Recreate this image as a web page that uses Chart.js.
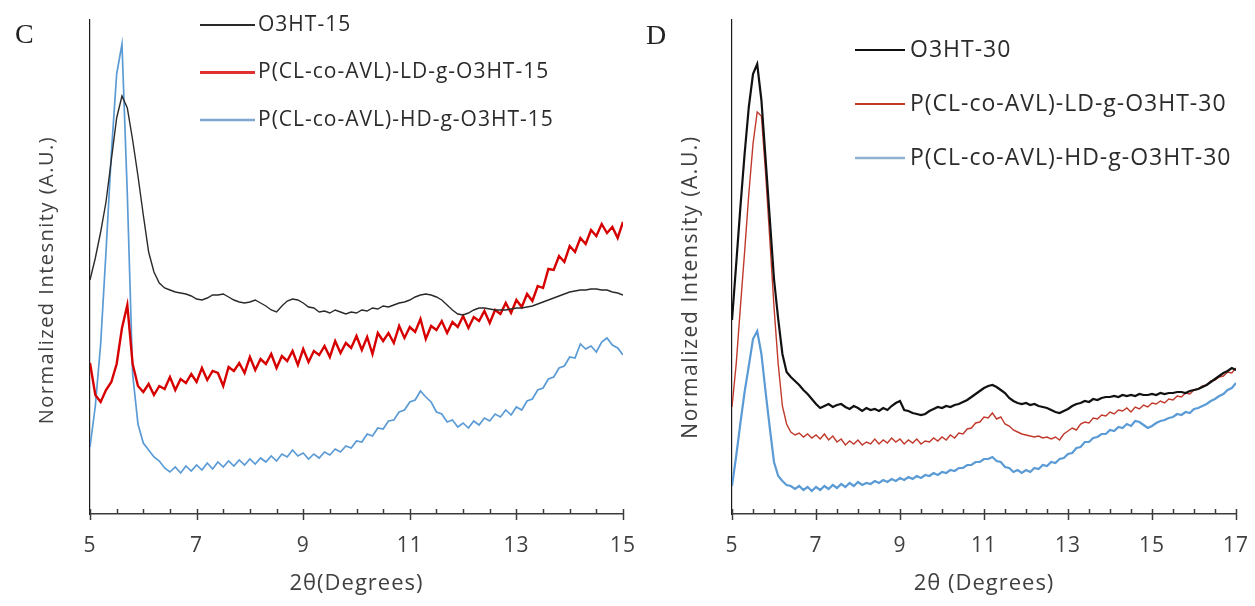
<!DOCTYPE html>
<html>
<head>
<meta charset="utf-8">
<script src="https://cdn.jsdelivr.net/npm/chart.js@4.4.1/dist/chart.umd.min.js"></script>
<style>
  html, body { margin: 0; padding: 0; background: #fff; }
  #page { position: relative; width: 1255px; height: 606px; overflow: hidden; }
  .panel { position: absolute; top: 0; height: 606px; }
  #boxC { left: 0; width: 650px; }
  #boxD { left: 630px; width: 625px; }
  .tag { position: absolute; font-family: 'Liberation Serif', serif; font-size: 28px; line-height: 28px; color: #222; }
</style>
</head>
<body>
<div id="page">
  <div class="panel" id="boxC"><canvas id="chartC"></canvas></div>
  <div class="panel" id="boxD"><canvas id="chartD"></canvas></div>
  <div class="tag" style="left:15px;top:20px">C</div>
  <div class="tag" style="left:646px;top:21px">D</div>
</div>
<script>
// XRD patterns, normalized intensity (arbitrary units), sampled every 0.1 deg 2θ
const thetaC = Array.from({ length: 101 }, (_, i) => Math.round((5 + i * 0.1) * 10) / 10);
const thetaD = Array.from({ length: 121 }, (_, i) => Math.round((5 + i * 0.1) * 10) / 10);

const labelsC = ['O3HT-15', 'P(CL-co-AVL)-LD-g-O3HT-15', 'P(CL-co-AVL)-HD-g-O3HT-15'];
const labelsD = ['O3HT-30', 'P(CL-co-AVL)-LD-g-O3HT-30', 'P(CL-co-AVL)-HD-g-O3HT-30'];
const ticksC = [5, 7, 9, 11, 13, 15];
const ticksD = [5, 7, 9, 11, 13, 15, 17];

// panel C
const o3ht15 = [
  234, 256, 282, 312, 354, 396, 418, 406, 374, 338,
  299, 262, 242, 231, 226, 224, 222, 221, 220, 218,
  215, 214, 216, 219, 219, 220, 217, 214, 212, 211,
  212, 214, 211, 208, 204, 202, 208, 213, 215, 214,
  211, 207, 206, 202, 203, 201, 204, 202, 200, 202,
  201, 204, 203, 206, 205, 208, 207, 209, 211, 212,
  214, 217, 219, 220, 219, 217, 214, 209, 204, 200,
  199, 201, 204, 206, 206, 205, 204, 204, 204, 205,
  206, 206, 207, 208, 210, 212, 214, 216, 218, 220,
  222, 223, 224, 224, 225, 225, 224, 224, 222, 221,
  219
];
const ld15 = [
  151, 119, 112, 124, 132, 150, 186, 209, 150, 128,
  122, 130, 119, 128, 125, 137, 124, 135, 131, 140,
  132, 146, 134, 143, 141, 128, 147, 143, 151, 141,
  157, 144, 155, 150, 160, 146, 158, 153, 163, 149,
  165, 152, 163, 159, 168, 157, 173, 161, 171, 166,
  178, 164, 177, 160, 181, 173, 181, 171, 188, 176,
  187, 182, 195, 175, 188, 184, 193, 181, 192, 187,
  198, 186, 197, 193, 203, 191, 204, 200, 211, 201,
  214, 207, 220, 213, 228, 226, 245, 244, 258, 252,
  268, 262, 276, 270, 284, 278, 290, 281, 287, 276,
  292
];
const hd15 = [
  67, 108, 170, 262, 360, 440, 470, 320, 140, 90,
  71, 64, 57, 53, 46, 42, 47, 41, 48, 43,
  49, 44, 51, 45, 52, 47, 53, 48, 54, 49,
  55, 50, 56, 52, 58, 53, 60, 57, 64, 58,
  61, 55, 60, 56, 62, 59, 65, 62, 68, 66,
  73, 72, 80, 78, 86, 85, 93, 94, 102, 104,
  112, 114, 123, 117, 112, 102, 100, 92, 94, 87,
  91, 86, 93, 89, 96, 93, 100, 97, 104, 99,
  107, 104, 113, 115, 124, 126, 135, 137, 146, 148,
  157, 156, 170, 165, 168, 162, 172, 176, 169, 166,
  159
];

// panel D
const o3ht30 = [
  194, 250, 307, 360, 407, 440, 450, 414, 355, 295,
  235, 195, 160, 142, 137, 133, 129, 124, 120, 115,
  110, 106, 108, 110, 107, 109, 110, 107, 105, 108,
  106, 103, 106, 104, 105, 103, 106, 104, 108, 111,
  113, 104, 103, 101, 100, 99, 100, 103, 105, 107,
  106, 108, 107, 109, 110, 112, 114, 117, 120, 123,
  126, 128, 129, 127, 124, 121, 116, 113, 111, 110,
  111, 109, 110, 108, 107, 106, 104, 102, 101, 103,
  105, 108, 110, 111, 113, 112, 115, 114, 116, 117,
  117, 118, 117, 119, 118, 119, 118, 120, 119, 119,
  120, 119, 121, 120, 121, 121, 122, 122, 121, 123,
  124, 125, 127, 129, 132, 135, 138, 141, 143, 146,
  144
];
const ld30 = [
  107, 150, 207, 262, 320, 370, 402, 398, 341, 275,
  207, 150, 108, 90, 82, 79, 81, 77, 80, 76,
  79, 75, 80, 74, 78, 72, 75, 69, 73, 70,
  74, 69, 72, 70, 75, 70, 74, 71, 76, 72,
  75, 70, 74, 71, 75, 70, 73, 72, 76, 73,
  77, 74, 79, 76, 81, 80, 85, 86, 91, 92,
  97, 96, 101, 95, 97, 90, 88, 84, 82, 80,
  79, 78, 77, 78, 76, 77, 75, 77, 74, 80,
  83, 86, 84, 90, 92, 91, 96, 95, 99, 98,
  102, 100, 104, 103, 106, 102, 107, 105, 109, 107,
  111, 110, 113, 111, 115, 114, 118, 117, 121, 120,
  124, 125, 128, 129, 133, 134, 137, 138, 142, 141,
  146
];
const hd30 = [
  28, 58, 91, 122, 148, 175, 183, 160, 122, 86,
  52, 38, 33, 29, 28, 25, 28, 24, 27, 23,
  27, 24, 28, 25, 29, 26, 30, 27, 31, 28,
  32, 29, 31, 30, 33, 31, 34, 32, 35, 33,
  36, 34, 37, 35, 38, 36, 39, 38, 41, 39,
  42, 41, 44, 43, 46, 46, 49, 49, 52, 52,
  55, 55, 57, 53, 52, 47, 46, 42, 44, 41,
  44, 42, 46, 45, 49, 48, 52, 51, 55, 56,
  60, 61, 66, 67, 72, 72, 76, 77, 80, 80,
  84, 83, 87, 86, 90, 88, 93, 92, 89, 86,
  88, 91, 93, 94, 96, 97, 100, 99, 102, 101,
  105, 106, 108, 110, 113, 115, 118, 120, 124, 126,
  131
];

Chart.defaults.font.family = "'Open Sans', sans-serif";
Chart.defaults.color = '#404040';

// slightly wider text, like the stretched original figure
const wideText = {
  id: 'wideText',
  beforeDraw(chart) {
    if ('letterSpacing' in chart.ctx) chart.ctx.letterSpacing = '1px';
  }
};

// tick marks: majors cross the axis, minors (every 0.5) point inwards
const axisTicks = {
  id: 'axisTicks',
  afterDraw(chart) {
    const sx = chart.scales.x, ctx = chart.ctx, y0 = sx.top;
    ctx.save();
    ctx.strokeStyle = '#3c3c3c';
    ctx.lineWidth = 1.5;
    for (let v = sx.min; v <= sx.max + 1e-9; v += 0.5) {
      const px = Math.round(sx.getPixelForValue(v)) + 0.5;
      const major = Math.abs((v - sx.min) % 2) < 1e-6;
      ctx.beginPath();
      ctx.moveTo(px, y0 - 5);
      ctx.lineTo(px, major ? y0 + 6 : y0);
      ctx.stroke();
    }
    ctx.restore();
  }
};

// vertical axis title, placed a little below the plot centre as in the original
const sideTitle = {
  id: 'sideTitle',
  afterDraw(chart, args, o) {
    const ctx = chart.ctx;
    ctx.save();
    if ('letterSpacing' in ctx) ctx.letterSpacing = o.spacing;
    ctx.translate(o.x, o.y);
    ctx.rotate(-Math.PI / 2);
    ctx.font = o.font;
    ctx.fillStyle = '#404040';
    ctx.textAlign = 'center';
    ctx.textBaseline = 'middle';
    ctx.fillText(o.text, 0, 0);
    ctx.restore();
  }
};

// in-plot legend, one short line sample and label per dataset
const lineKey = {
  id: 'lineKey',
  afterDraw(chart, args, o) {
    const ctx = chart.ctx;
    ctx.save();
    if ('letterSpacing' in ctx) ctx.letterSpacing = o.spacing;
    ctx.font = o.font;
    ctx.textBaseline = 'middle';
    ctx.fillStyle = '#2b2b2b';
    chart.data.datasets.forEach((ds, i) => {
      const y = o.y + i * o.gap;
      ctx.strokeStyle = o.colors[i];
      ctx.lineWidth = o.widths[i];
      ctx.beginPath();
      ctx.moveTo(o.x, y);
      ctx.lineTo(o.x + o.len, y);
      ctx.stroke();
      ctx.fillText(ds.label, o.x + o.len + o.textGap, y);
    });
    ctx.restore();
  }
};

function drawXrd(id, theta, series, labels, style) {
  new Chart(document.getElementById(id), {
    type: 'line',
    data: {
      datasets: series.map((ys, i) => ({
        label: labels[i],
        data: theta.map((t, k) => ({ x: t, y: ys[k] })),
        borderColor: style.colors[i],
        borderWidth: style.widths[i],
        pointRadius: 0,
        tension: 0
      }))
    },
    options: {
      responsive: true,
      maintainAspectRatio: false,
      animation: false,
      layout: { padding: { top: 20, right: style.padRight, left: 0, bottom: 0 } },
      plugins: {
        legend: { display: false },
        tooltip: { enabled: false },
        lineKey: style.key,
        sideTitle: style.side
      },
      scales: {
        x: {
          type: 'linear',
          min: style.ticks[0],
          max: style.ticks[style.ticks.length - 1],
          afterBuildTicks: s => { s.ticks = style.ticks.map(v => ({ value: v })); },
          afterFit: s => { s.height = 92; s.paddingLeft = 0; s.paddingRight = 0; },
          grid: { display: false, drawTicks: false },
          border: { display: true, color: '#3c3c3c', width: 1.5 },
          ticks: { padding: 19, maxRotation: 0, autoSkip: false, font: { size: 21 }, color: '#404040' },
          title: { display: true, text: style.xTitle, font: { size: 22 }, color: '#404040', padding: { top: 0, bottom: 9 } }
        },
        y: {
          min: 0,
          max: 494,
          afterFit: s => { s.width = style.yWidth; },
          grid: { display: false, drawTicks: false },
          border: { display: true, color: '#1a1a1a', width: 1.2 },
          ticks: { display: false },
          title: { display: false }
        }
      }
    },
    plugins: [wideText, axisTicks, sideTitle, lineKey]
  });
}

drawXrd('chartC', thetaC, [o3ht15, ld15, hd15], labelsC, {
  colors: ['#2a2a2a', '#d60000', '#5b9bd5'],
  widths: [1.4, 2.4, 1.7],
  ticks: ticksC,
  padRight: 27,
  yWidth: 90,
  xTitle: '2θ(Degrees)',
  side: { text: 'Normalized Intesnity (A.U.)', x: 47, y: 280, font: "20px 'Open Sans'", spacing: '1.5px' },
  key: { x: 200, y: 25, gap: 47.5, len: 55, textGap: 3, font: "21px 'Open Sans'", spacing: '1px',
         colors: ['#2a2a2a', '#e03030', '#7fa7cf'], widths: [2, 3, 2.5] }
});

drawXrd('chartD', thetaD, [o3ht30, ld30, hd30], labelsD, {
  colors: ['#111111', '#c0392b', '#5b9bd5'],
  widths: [2.2, 1.4, 2.2],
  ticks: ticksD,
  padRight: 19,
  yWidth: 102,
  xTitle: '2θ (Degrees)',
  side: { text: 'Normalized Intensity (A.U.)', x: 61, y: 287, font: "21px 'Open Sans'", spacing: '1.6px' },
  key: { x: 225, y: 50, gap: 54, len: 50, textGap: 5, font: "23px 'Open Sans'", spacing: '1px',
         colors: ['#111111', '#c0392b', '#8fb0d0'], widths: [2, 2, 2.5] }
});
</script>
</body>
</html>
